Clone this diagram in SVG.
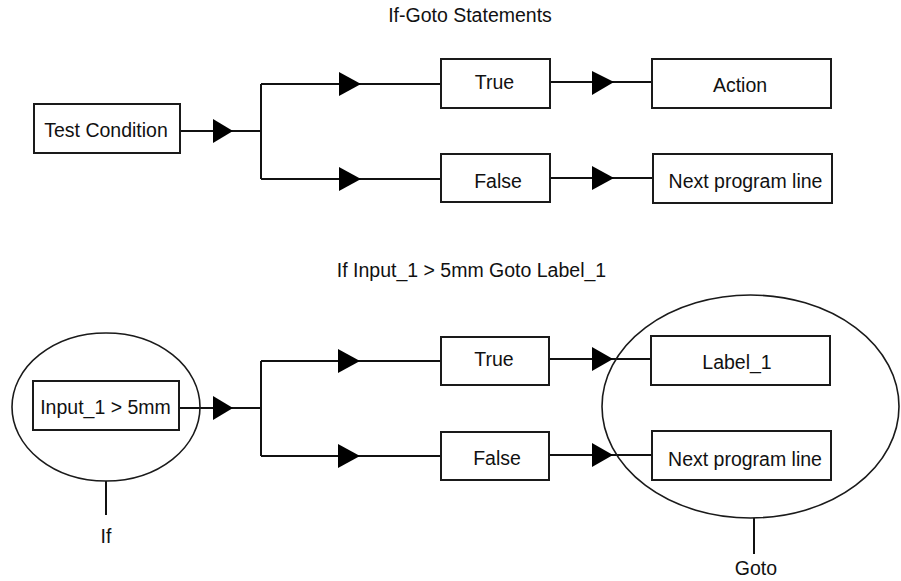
<svg xmlns="http://www.w3.org/2000/svg" width="901" height="581" viewBox="0 0 901 581">
<style>
.box{fill:#fff;stroke:#1a1a1a;stroke-width:2}
.ell{fill:none;stroke:#1a1a1a;stroke-width:1.6}
.ln{fill:none;stroke:#111;stroke-width:2}
.tri{fill:#000}
text{font-family:"Liberation Sans",Arial,sans-serif;font-size:19.5px;fill:#111;text-anchor:middle}
</style>
<rect width="901" height="581" fill="#fff"/>
<text id="title1" x="470" y="22">If-Goto Statements</text>
<text id="title2" x="471.5" y="277">If Input_1 &gt; 5mm Goto Label_1</text>

<g id="connectors">
  <path class="ln" d="M180 131H261M261 84V179M261 84H441M261 179H441"/>
  <path class="ln" d="M550 82H652M550 178H652"/>
  <path class="ln" d="M179 408H261M261 361V456M261 361H441M261 456H441"/>
  <path class="ln" d="M549 359H651M549 455H652"/>
  <path class="ln" d="M106 481V515M754 518V554"/>
  <polygon class="tri" points="213,119 233,131 213,143"/>
  <polygon class="tri" points="339,72 361,84 339,96"/>
  <polygon class="tri" points="339,167 361,179 339,191"/>
  <polygon class="tri" points="592,71 614,82 592,95"/>
  <polygon class="tri" points="592,166 614,178 592,190"/>
  <polygon class="tri" points="213,396 233,408 213,420"/>
  <polygon class="tri" points="338,349 360,361 338,373"/>
  <polygon class="tri" points="338,444 360,456 338,468"/>
  <polygon class="tri" points="592,347 613,359 592,371"/>
  <polygon class="tri" points="592,443 613,455 592,467"/>
</g>

<g id="if-group"><ellipse class="ell" cx="106" cy="407" rx="94" ry="74"/></g>
<g id="goto-group"><ellipse class="ell" cx="750.5" cy="406.5" rx="148.5" ry="111.5"/></g>

<g id="test-condition"><rect class="box" x="34" y="104" width="146" height="49"/><text x="106" y="137">Test Condition</text></g>
<g id="true1"><rect class="box" x="441" y="59" width="109" height="49"/><text x="494.5" y="89">True</text></g>
<g id="false1"><rect class="box" x="441" y="154" width="109" height="48"/><text x="498" y="188">False</text></g>
<g id="action"><rect class="box" x="652" y="59" width="179" height="49"/><text x="740" y="92">Action</text></g>
<g id="next1"><rect class="box" x="653" y="154" width="179" height="49"/><text x="745.5" y="188">Next program line</text></g>

<g id="input"><rect class="box" x="33" y="381" width="146" height="49"/><text x="105.5" y="414">Input_1 &gt; 5mm</text></g>
<g id="true2"><rect class="box" x="441" y="337" width="108" height="48"/><text x="494" y="366">True</text></g>
<g id="false2"><rect class="box" x="441" y="432" width="108" height="48"/><text x="497" y="465">False</text></g>
<g id="label1"><rect class="box" x="651" y="336" width="179" height="49"/><text x="737" y="369">Label_1</text></g>
<g id="next2"><rect class="box" x="652" y="431" width="179" height="49"/><text x="745" y="466">Next program line</text></g>

<g id="if-label"><text x="106" y="543">If</text></g>
<g id="goto-label"><text x="756" y="575">Goto</text></g>
</svg>
